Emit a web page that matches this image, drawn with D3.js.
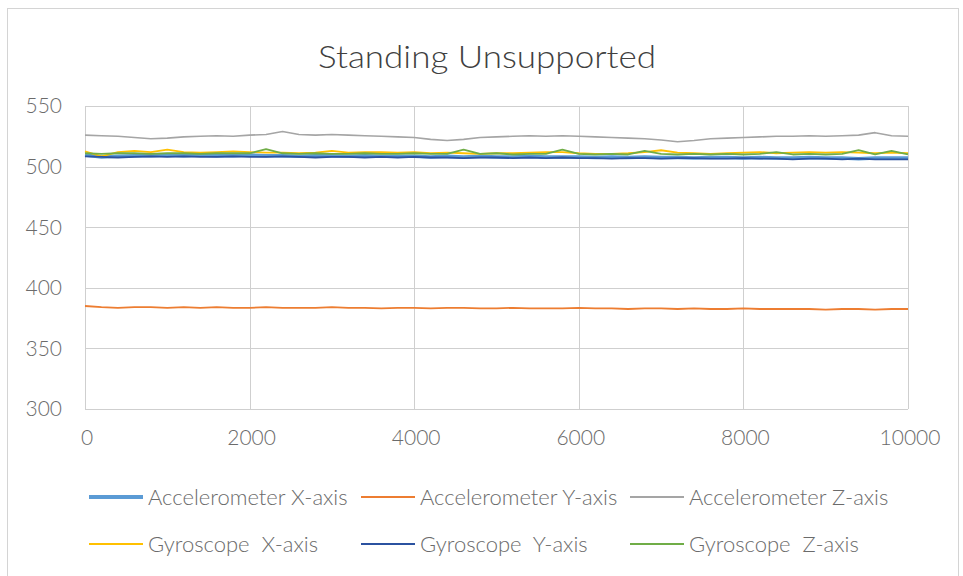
<!DOCTYPE html>
<html>
<head>
<meta charset="utf-8">
<script src="https://cdn.jsdelivr.net/npm/d3@7"></script>
<style>
  body { margin: 0; background: #fff; }
  text { font-family: Lato, "Open Sans", sans-serif; }
</style>
</head>
<body>
<div id="chart"></div>
<script>
const sampleIndex = [
    0, 200, 400, 600, 800, 1000, 1200, 1400, 1600, 1800,
    2000, 2200, 2400, 2600, 2800, 3000, 3200, 3400, 3600, 3800,
    4000, 4200, 4400, 4600, 4800, 5000, 5200, 5400, 5600, 5800,
    6000, 6200, 6400, 6600, 6800, 7000, 7200, 7400, 7600, 7800,
    8000, 8200, 8400, 8600, 8800, 9000, 9200, 9400, 9600, 9800,
    10000
];

const accelX = [
    509.5, 508, 508.5, 509, 509, 509.5, 509, 509.5, 509, 509,
    509.5, 509, 509, 508.5, 509, 509, 508.5, 509, 508.5, 508.5,
    508.5, 508, 508.5, 508, 508.5, 508, 508, 508.5, 508, 508,
    508, 507.5, 508, 507.5, 508, 507.5, 507.5, 507, 507.5, 507.5,
    507, 507.5, 507, 507, 507.5, 507, 507, 506.5, 507, 507,
    507
];
const accelY = [
    385, 384, 383.5, 384, 384, 383.5, 384, 383.5, 384, 383.5,
    383.5, 384, 383.5, 383.5, 383.5, 384, 383.5, 383.5, 383, 383.5,
    383.5, 383, 383.5, 383.5, 383, 383, 383.5, 383, 383, 383,
    383.5, 383, 383, 382.5, 383, 383, 382.5, 383, 382.5, 382.5,
    383, 382.5, 382.5, 382.5, 382.5, 382, 382.5, 382.5, 382, 382.5,
    382.5
];
const accelZ = [
    526, 525.5, 525, 524, 523, 523.5, 524.5, 525, 525.5, 525,
    526, 526.5, 529, 526.5, 526, 526.5, 526, 525.5, 525, 524.5,
    524, 522.5, 521.5, 522.5, 524, 524.5, 525, 525.5, 525, 525.5,
    525, 524.5, 524, 523.5, 523, 522, 520.5, 521.5, 523, 523.5,
    524, 524.5, 525, 525, 525.5, 525, 525.5, 526, 528, 525.5,
    525
];
const gyroX = [
    512.5, 508.5, 512, 513, 512, 514, 512, 511.5, 512, 512.5,
    512, 511.5, 511.5, 511, 511.5, 513, 511.5, 512, 512, 511.5,
    512, 511, 511.5, 511, 510.5, 511, 511, 511.5, 512, 512,
    511, 510.5, 510.5, 511, 512, 513.5, 511.5, 511, 510.5, 511,
    511.5, 512, 511, 511.5, 512, 511.5, 512, 511.5, 511, 511.5,
    511
];
const gyroY = [
    508.5, 508, 507.5, 508, 508.5, 508, 508.5, 508, 508, 508.5,
    508, 508, 508.5, 508, 507.5, 508, 508, 507.5, 508, 507.5,
    508, 507.5, 507.5, 507, 507.5, 507.5, 507, 507.5, 507, 507.5,
    507, 507, 506.5, 507, 507, 506.5, 507, 507, 506.5, 506.5,
    507, 506.5, 506.5, 506, 506.5, 506.5, 506, 506.5, 506, 506,
    506
];
const gyroZ = [
    511, 510.5, 511, 511, 510.5, 511, 511, 510.5, 511, 511,
    511, 514.5, 511, 510.5, 511, 510.5, 510.5, 511, 510.5, 510.5,
    511, 510.5, 510.5, 514, 510.5, 511, 510, 510.5, 510.5, 514,
    510.5, 510, 510.5, 510, 513, 510.5, 510, 510.5, 510, 510.5,
    510, 510.5, 512, 510, 510.5, 510, 510.5, 513.5, 510, 513,
    510
];

const seriesNames = [
    "Accelerometer X-axis", "Accelerometer Y-axis", "Accelerometer Z-axis",
    "Gyroscope  X-axis", "Gyroscope  Y-axis", "Gyroscope  Z-axis"
];
const seriesValues = [accelX, accelY, accelZ, gyroX, gyroY, gyroZ];
const xTicks = [0, 2000, 4000, 6000, 8000, 10000];
const yTicks = [300, 350, 400, 450, 500, 550];
const chartTitle = "Standing Unsupported";

window.onload = function () {
    const W = 963, H = 576;
    const colors = ["#5b9bd5", "#ed7d31", "#a5a5a5", "#ffc000", "#2b52a0", "#70ad47"];
    const widths = [3.5, 1.8, 1.6, 1.8, 1.8, 1.8];
    const textColor = "#6b6b6b";

    const svg = d3.select("#chart")
        .append("svg")
        .attr("width", W)
        .attr("height", H);

    svg.append("rect")
        .attr("x", 7.5).attr("y", 8.5)
        .attr("width", 951).attr("height", 600)
        .attr("fill", "none")
        .attr("stroke", "#d4d4d4");

    const x = d3.scaleLinear().domain([0, 10000]).range([85, 908]);
    const y = d3.scaleLinear().domain([300, 550]).range([409, 106]);

    svg.append("text")
        .attr("x", 487).attr("y", 68)
        .attr("text-anchor", "middle")
        .attr("font-size", 31)
        .attr("font-weight", 300)
        .attr("textLength", 338)
        .attr("lengthAdjust", "spacingAndGlyphs")
        .attr("fill", "#404040")
        .text(chartTitle);

    const grid = svg.append("g").attr("stroke", "#cfcfcf").attr("stroke-width", 1);
    grid.selectAll(".hg")
        .data(yTicks)
        .enter()
        .append("line")
        .attr("x1", x(0)).attr("x2", x(10000))
        .attr("y1", d => Math.round(y(d)) + 0.5)
        .attr("y2", d => Math.round(y(d)) + 0.5);
    grid.selectAll(".vg")
        .data(xTicks)
        .enter()
        .append("line")
        .attr("y1", y(300)).attr("y2", y(550))
        .attr("x1", d => Math.round(x(d)) + 0.5)
        .attr("x2", d => Math.round(x(d)) + 0.5);

    svg.selectAll(".ylab")
        .data(yTicks)
        .enter()
        .append("text")
        .attr("x", 62)
        .attr("y", d => y(d))
        .attr("dy", "0.35em")
        .attr("text-anchor", "end")
        .attr("font-size", 21)
        .attr("font-weight", 300)
        .attr("fill", textColor)
        .text(d => d);

    svg.selectAll(".xlab")
        .data(xTicks)
        .enter()
        .append("text")
        .attr("x", d => x(d) + 2)
        .attr("y", 445)
        .attr("text-anchor", "middle")
        .attr("font-size", 21)
        .attr("font-weight", 300)
        .attr("fill", textColor)
        .text(d => d);

    const line = d3.line()
        .x((d, i) => x(sampleIndex[i]))
        .y(d => y(d));

    svg.append("g")
        .selectAll("path")
        .data(seriesValues)
        .enter()
        .append("path")
        .attr("d", line)
        .attr("fill", "none")
        .attr("stroke", (d, i) => colors[i])
        .attr("stroke-width", (d, i) => widths[i])
        .attr("stroke-linejoin", "round");

    const legendCols = [89, 361, 630];
    const legendRows = [497, 544];
    const legend = svg.append("g")
        .selectAll("g")
        .data(seriesNames)
        .enter()
        .append("g")
        .attr("transform", (d, i) => "translate(" + legendCols[i % 3] + "," + legendRows[Math.floor(i / 3)] + ")");

    legend.append("line")
        .attr("x1", 0).attr("x2", 54)
        .attr("stroke", (d, i) => colors[i])
        .attr("stroke-width", (d, i) => i === 0 ? 4 : 2);

    legend.append("text")
        .attr("x", 59)
        .attr("dy", "0.35em")
        .attr("font-size", 22)
        .attr("font-weight", 300)
        .attr("fill", textColor)
        .style("white-space", "pre")
        .text(d => d);
};
</script>
</body>
</html>
